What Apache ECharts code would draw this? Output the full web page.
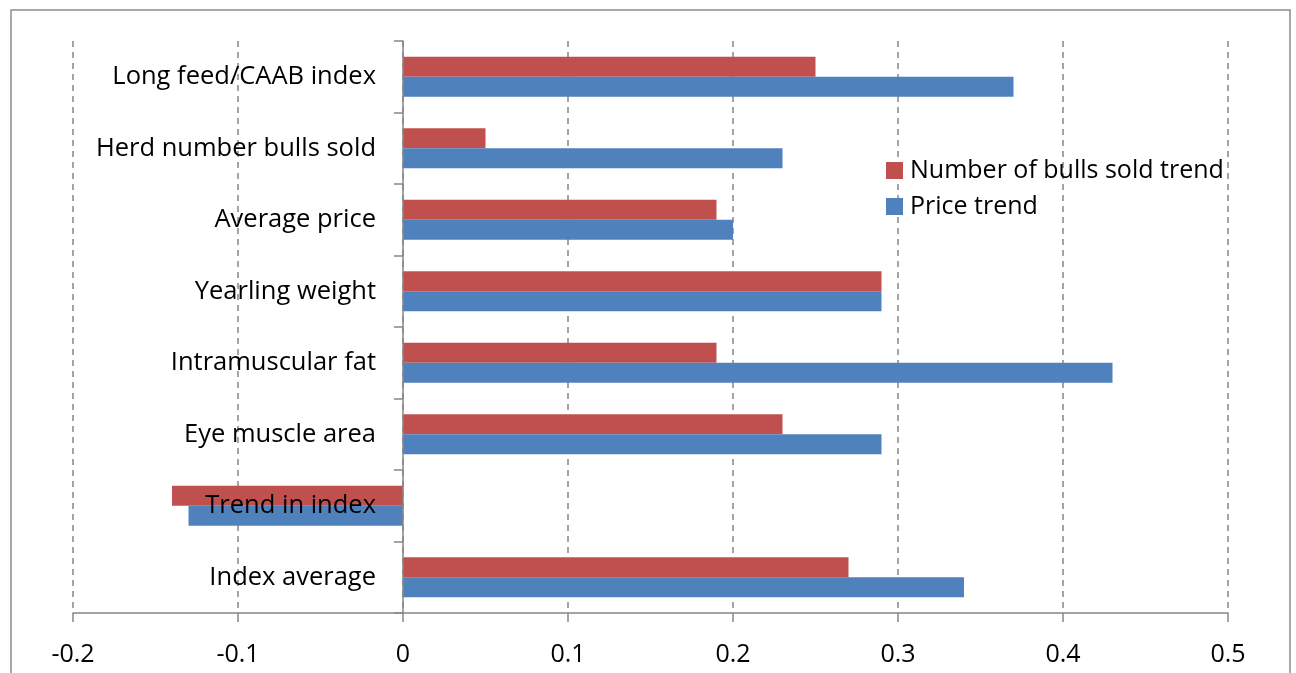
<!DOCTYPE html>
<html>
<head>
<meta charset="utf-8">
<script src="https://cdn.jsdelivr.net/npm/echarts@6/dist/echarts.min.js"></script>
<style>
html,body{margin:0;padding:0;background:#fff;}
#c{width:1296px;height:673px;}
</style>
</head>
<body>
<div id="c"></div>
<script>
const categories = ["Index average","Trend in index","Eye muscle area","Intramuscular fat","Yearling weight","Average price","Herd number bulls sold","Long feed/CAAB index"];
const bullsSoldTrend = [0.27,-0.14,0.23,0.19,0.29,0.19,0.05,0.25];
const priceTrend = [0.34,-0.13,0.29,0.43,0.29,0.20,0.23,0.37];
const seriesNames = ["Number of bulls sold trend","Price trend"];
const xTicks = {min:-0.2,max:0.5,interval:0.1};

const FONT = "Open Sans";
const GRID = {left:73,right:68,top:41,bottom:60};
const plotW = 1296 - GRID.left - GRID.right;
const zeroOffset = -plotW * (0 - xTicks.min) / (xTicks.max - xTicks.min);
const chart = echarts.init(document.getElementById('c'), null, {renderer:'canvas'});
chart.setOption({
  animation:false,
  backgroundColor:'#fff',
  textStyle:{fontFamily:FONT},
  graphic:[{type:'rect',shape:{x:11,y:10,width:1279,height:700},style:{fill:'none',stroke:'#8c8c8c',lineWidth:1.5},silent:true}],
  grid:Object.assign({containLabel:false,outerBoundsMode:'none'},GRID),
  legend:{
    orient:'vertical',left:881,top:153,
    itemWidth:17,itemHeight:17,itemGap:11,
    icon:'rect',
    data:seriesNames,
    textStyle:{fontFamily:FONT,fontSize:25,color:'#000',lineHeight:24,padding:[0,0,0,2]}
  },
  xAxis:{
    type:'value',min:xTicks.min,max:xTicks.max,interval:xTicks.interval,
    axisLine:{show:true,onZero:false,lineStyle:{color:'#868686',width:1.5}},
    axisTick:{show:true,length:9,lineStyle:{color:'#868686',width:1.5}},
    axisLabel:{fontFamily:FONT,fontSize:25,color:'#000',margin:29,formatter:v=>String(Math.round(v*10)/10)},
    splitLine:{show:true,lineStyle:{color:'#868686',type:[6,5],width:1.5}}
  },
  yAxis:{
    type:'category',data:categories,offset:zeroOffset,z:10,
    axisLine:{show:true,onZero:false,lineStyle:{color:'#868686',width:1.5}},
    axisTick:{show:true,length:9,lineStyle:{color:'#868686',width:1.5}},
    axisLabel:{fontFamily:FONT,fontSize:25.5,color:'#000',margin:27},
    splitLine:{show:false}
  },
  series:[
    {name:seriesNames[0],type:'bar',data:bullsSoldTrend,itemStyle:{color:'#C0504D'},barGap:'0%',barCategoryGap:'44%'},
    {name:seriesNames[1],type:'bar',data:priceTrend,itemStyle:{color:'#4F81BD'},barGap:'0%',barCategoryGap:'44%'}
  ]
});
</script>
</body>
</html>
